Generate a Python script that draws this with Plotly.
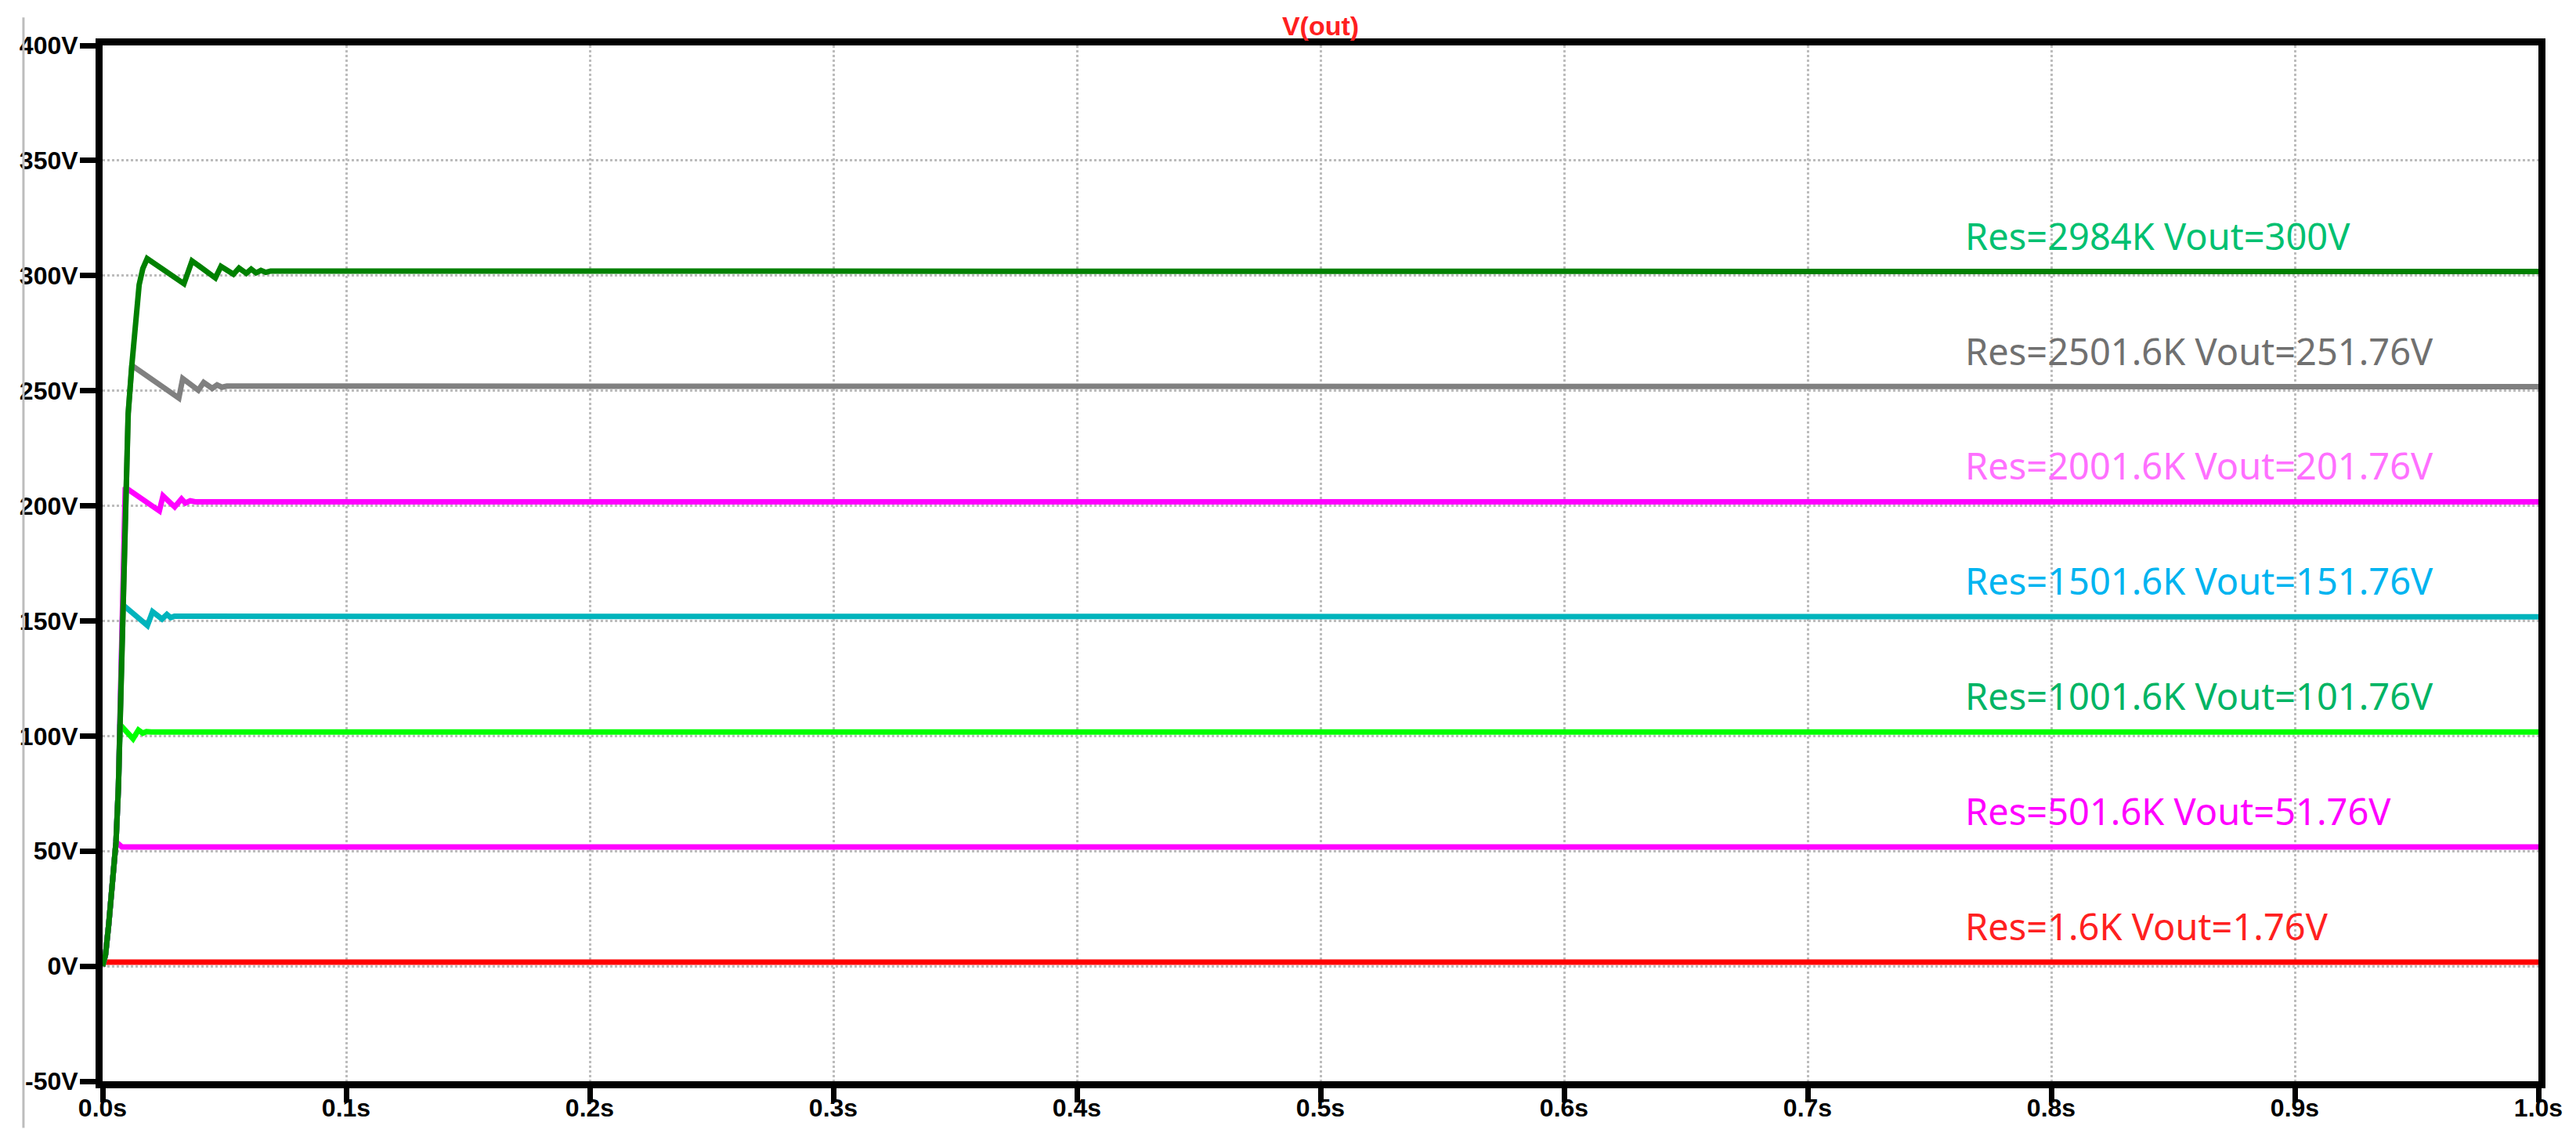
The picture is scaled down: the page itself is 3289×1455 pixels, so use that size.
import plotly.graph_objects as go

# common start-up ramp shared by all runs (s, V)
t_rise = [0.0, 0.0012, 0.0025, 0.004, 0.0055, 0.0065, 0.0071, 0.0083, 0.0093, 0.0105, 0.012, 0.0135, 0.015, 0.0165, 0.0183]
v_rise = [0.0, 5.0, 18.0, 36.0, 54.0, 78.0, 105.0, 157.0, 208.0, 240.0, 261.0, 281.0, 296.0, 303.0, 307.4]

# how many ramp points each run follows before it splits off
split_at = [0, 5, 7, 8, 9, 11, 15]

# ringing + settled part of each run
t_tail = [
    [0.0, 1.0],
    [0.008, 1.0],
    [0.0125, 0.0147, 0.0165, 0.018, 0.02, 1.0],
    [0.0184, 0.0205, 0.0244, 0.0264, 0.028, 0.0295, 1.0],
    [0.0233, 0.0248, 0.0296, 0.0324, 0.034, 0.036, 0.038, 1.0],
    [0.0313, 0.0329, 0.0393, 0.0415, 0.045, 0.047, 0.049, 0.051, 1.0],
    [0.0334, 0.0367, 0.0463, 0.0486, 0.0537, 0.056, 0.059, 0.061, 0.063, 0.065, 0.067, 0.069, 1.0],
]
v_tail = [
    [1.76, 1.76],
    [51.76, 51.76],
    [98.8, 102.6, 101.2, 101.9, 101.76, 101.76],
    [148.0, 154.0, 150.8, 152.8, 151.4, 152.0, 151.76],
    [197.8, 204.3, 199.5, 203.0, 201.2, 202.2, 201.76, 201.76],
    [246.8, 255.3, 250.2, 253.6, 251.0, 252.5, 251.5, 252.0, 251.76],
    [296.5, 306.4, 299.0, 304.0, 300.6, 303.3, 301.0, 302.8, 301.2, 302.3, 301.4, 302.0, 301.76],
]
v_final = [1.76, 51.76, 101.76, 151.76, 201.76, 251.76, 301.76]

labels = [
    "Res=1.6K Vout=1.76V",
    "Res=501.6K Vout=51.76V",
    "Res=1001.6K Vout=101.76V",
    "Res=1501.6K Vout=151.76V",
    "Res=2001.6K Vout=201.76V",
    "Res=2501.6K Vout=251.76V",
    "Res=2984K Vout=300V",
]
line_colors = ["#ff0000", "#ff00ff", "#00ff00", "#00b4bc", "#ff00ff", "#808080", "#008000"]
text_colors = ["#ff2020", "#ff00ff", "#00b464", "#00b4f0", "#ff70ff", "#707070", "#00c070"]

x_ticks = [0.0, 0.1, 0.2, 0.3, 0.4, 0.5, 0.6, 0.7, 0.8, 0.9, 1.0]
x_ticktext = ["0.0s", "0.1s", "0.2s", "0.3s", "0.4s", "0.5s", "0.6s", "0.7s", "0.8s", "0.9s", "1.0s"]
y_ticks = [-50, 0, 50, 100, 150, 200, 250, 300, 350, 400]
y_ticktext = ["-50V", "0V", "50V", "100V", "150V", "200V", "250V", "300V", "350V", "400V"]

fig = go.Figure()
for i in range(len(labels)):
    k = split_at[i]
    fig.add_trace(go.Scatter(
        x=t_rise[:k] + t_tail[i], y=v_rise[:k] + v_tail[i],
        mode="lines", line=dict(color=line_colors[i], width=7),
        name=labels[i], showlegend=False, hoverinfo="skip"))
    fig.add_annotation(x=0.764, y=v_final[i], xref="x", yref="y",
                       text=labels[i], showarrow=False,
                       xanchor="left", yanchor="middle", yshift=46,
                       font=dict(family="Noto Sans", size=47, color=text_colors[i]))

# thin grey frame line at the far left of the original screenshot
fig.add_shape(type="line", xref="paper", yref="paper",
              x0=-0.0325, x1=-0.0325, y0=-0.045, y1=1.027,
              line=dict(color="#bdbdbd", width=3))

tick_font = dict(family="Arial, Liberation Sans", size=32, color="black", weight="bold")
axis_style = dict(showgrid=True, gridcolor="#bcbcbc", griddash="dot", gridwidth=3,
                  showline=True, linecolor="black", linewidth=9, mirror=True,
                  ticks="outside", tickcolor="black", tickwidth=7,
                  zeroline=False, tickfont=tick_font)

fig.update_xaxes(range=[0, 1.0], tickvals=x_ticks, ticktext=x_ticktext, ticklen=18,
                 ticklabelstandoff=-20, **axis_style)
fig.update_yaxes(range=[-50, 400], tickvals=y_ticks, ticktext=y_ticktext, ticklen=20,
                 ticklabelstandoff=-4, **axis_style)

# page body adds an 8px offset, so the figure is 8px smaller and margins shifted
fig.update_layout(
    width=3281, height=1447,
    margin=dict(l=123, r=48, t=50, b=75),
    plot_bgcolor="white", paper_bgcolor="white",
    showlegend=False,
    title=dict(text="<b>V(out)</b>", x=0.5, xref="paper", xanchor="center",
               y=1 - 25 / 1447, yref="container", yanchor="middle",
               font=dict(family="Arial, Liberation Sans", size=34, color="#ff2020")),
)

fig.write_html("out.html")
